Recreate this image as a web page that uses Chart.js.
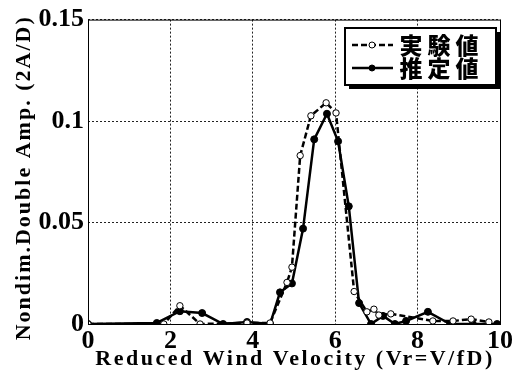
<!DOCTYPE html>
<html>
<head>
<meta charset="utf-8">
<script src="https://cdn.jsdelivr.net/npm/chart.js@4/dist/chart.umd.min.js"></script>
<style>
  html, body { margin: 0; padding: 0; background: #fff; }
  #wrap { width: 517px; height: 376px; }
</style>
</head>
<body>
<div id="wrap"><canvas id="chart" width="517" height="376"></canvas></div>
<script>
'use strict';
// 実験値 (dashed line, open circles)
const expX = [0, 1.84, 2.23, 2.72, 3.86, 4.42, 4.83, 4.95, 5.15, 5.41, 5.78, 6.02, 6.46, 6.77, 6.94, 7.06, 7.35, 8.37, 8.86, 9.3, 9.73];
const expY = [0, 0, 0.009, 0, 0.0005, 0.0005, 0.0205, 0.028, 0.083, 0.1026, 0.109, 0.104, 0.016, 0.006, 0.0073, 0.0044, 0.005, 0.0015, 0.0015, 0.0024, 0.001];
// 推定値 (solid line, filled circles)
const estX = [0, 1.67, 2.23, 2.77, 3.28, 3.86, 4.42, 4.66, 4.95, 5.22, 5.49, 5.8, 6.07, 6.33, 6.58, 6.87, 7.16, 7.45, 7.72, 8.25, 8.79, 9.34, 9.93];
const estY = [0, 0.0005, 0.0063, 0.0054, 0, 0.001, 0, 0.0156, 0.02, 0.047, 0.091, 0.1036, 0.09, 0.058, 0.0103, 0, 0.004, 0, 0.0015, 0.006, 0, 0, 0];

const xTicks = [0, 2, 4, 6, 8, 10];
const yTicks = [0, 0.05, 0.1, 0.15];
const yTickLabels = ['0', '0.05', '0.1', '0.15'];
const seriesNames = ['実験値', '推定値'];
const xTitle = 'Reduced Wind Velocity (Vr=V/fD)';
const yTitle = 'Nondim.Double Amp. (2A/D)';

const serif = "'Liberation Serif', 'Times New Roman', serif";

const toPoints = (xs, ys) => xs.map((x, i) => ({ x: x, y: ys[i] }));

// 軸タイトル (文字間隔を広げて描く)
const titlePlugin = {
  id: 'axisTitles',
  afterDraw(chart) {
    const { ctx, chartArea: a } = chart;
    ctx.save();
    ctx.fillStyle = '#000';
    ctx.font = 'bold 22px ' + serif;
    ctx.textAlign = 'center';
    ctx.textBaseline = 'middle';
    ctx.letterSpacing = '2.5px';
    ctx.fillText(xTitle, (a.left + a.right) / 2 + 1, 359);
    ctx.translate(24, (a.top + a.bottom) / 2 + 6);
    ctx.rotate(-Math.PI / 2);
    ctx.letterSpacing = '2px';
    ctx.fillText(yTitle, 0, 0);
    ctx.restore();
  }
};

// 枠と凡例
const framePlugin = {
  id: 'frame',
  afterDatasetsDraw(chart) {
    const { ctx, chartArea: a } = chart;
    ctx.save();
    ctx.strokeStyle = '#000';
    ctx.lineWidth = 1;
    ctx.strokeRect(a.left + 0.5, a.top + 0.5, a.right - a.left, a.bottom - a.top);

    // legend box
    const bx = 345, by = 28, bw = 151, bh = 57;
    ctx.fillStyle = '#000';
    ctx.fillRect(bx + 4, by + 4, bw, bh);
    ctx.fillStyle = '#fff';
    ctx.fillRect(bx, by, bw, bh);
    ctx.lineWidth = 2;
    ctx.strokeRect(bx, by, bw, bh);

    const rows = [by + 17, by + 40];
    rows.forEach((ry, i) => {
      ctx.beginPath();
      ctx.lineWidth = 2.5;
      ctx.setLineDash(i === 0 ? [6, 3] : []);
      ctx.moveTo(bx + 7, ry);
      ctx.lineTo(bx + 48, ry);
      ctx.stroke();
      ctx.setLineDash([]);
      ctx.beginPath();
      ctx.arc(bx + 27, ry, 3, 0, Math.PI * 2);
      ctx.fillStyle = i === 0 ? '#fff' : '#000';
      ctx.fill();
      ctx.lineWidth = 1;
      ctx.strokeStyle = '#000';
      ctx.stroke();

      ctx.fillStyle = '#000';
      ctx.font = "900 23px 'Noto Sans CJK JP'";
      ctx.textBaseline = 'middle';
      ctx.textAlign = 'center';
      const chars = seriesNames[i].split('');
      chars.forEach((c, k) => ctx.fillText(c, bx + 66 + k * 28, ry));
    });
    ctx.restore();
  }
};

new Chart(document.getElementById('chart').getContext('2d'), {
  type: 'line',
  data: {
    datasets: [{
      label: seriesNames[0],
      data: toPoints(expX, expY),
      borderColor: '#000',
      borderWidth: 2.5,
      borderDash: [6, 3],
      pointRadius: 3.2,
      pointBackgroundColor: '#fff',
      pointBorderColor: '#000',
      pointBorderWidth: 1,
      tension: 0,
      fill: false
    }, {
      label: seriesNames[1],
      data: toPoints(estX, estY),
      borderColor: '#000',
      borderWidth: 2.5,
      pointRadius: 3.5,
      pointBackgroundColor: '#000',
      pointBorderColor: '#000',
      pointBorderWidth: 1,
      tension: 0,
      fill: false
    }]
  },
  options: {
    responsive: false,
    animation: false,
    devicePixelRatio: 1,
    layout: { padding: { top: 17, right: 17, left: 0, bottom: 0 } },
    plugins: {
      legend: { display: false },
      tooltip: { enabled: false }
    },
    scales: {
      x: {
        type: 'linear',
        min: 0,
        max: 10,
        afterBuildTicks: s => { s.ticks = xTicks.map(v => ({ value: v })); },
        afterFit: s => { s.height = 52; },
        ticks: {
          color: '#000',
          padding: 2,
          font: { family: serif, size: 26, weight: 'bold' },
          maxRotation: 0
        },
        grid: { color: '#222', lineWidth: 1, drawTicks: false },
        border: { display: false, dash: [2, 2] }
      },
      y: {
        min: 0,
        max: 0.15,
        afterBuildTicks: s => { s.ticks = yTicks.map(v => ({ value: v })); },
        afterFit: s => { s.width = 88; },
        ticks: {
          color: '#000',
          padding: 4,
          font: { family: serif, size: 26, weight: 'bold' },
          callback: (v, i) => yTickLabels[i]
        },
        grid: { color: '#222', lineWidth: 1, drawTicks: false },
        border: { display: false, dash: [2, 2] }
      }
    }
  },
  plugins: [framePlugin, titlePlugin]
});
</script>
</body>
</html>
